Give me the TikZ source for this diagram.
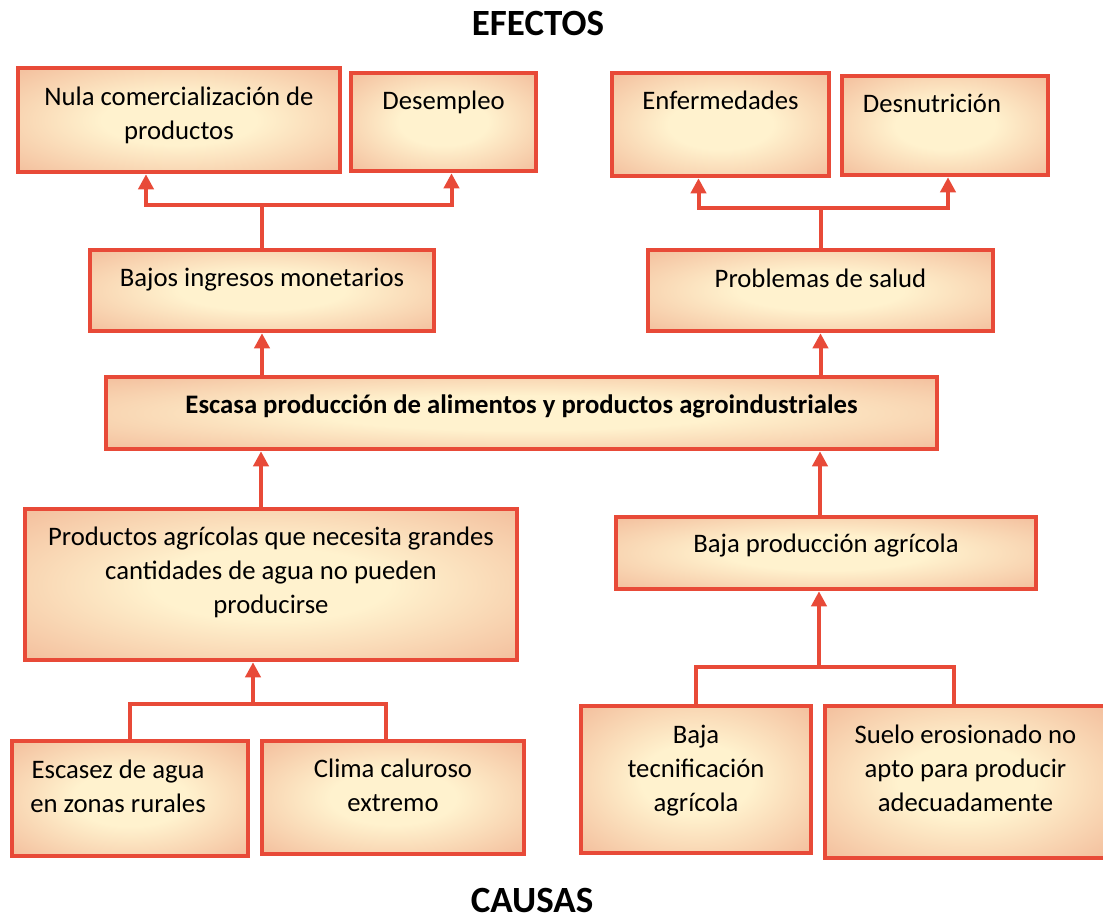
\documentclass[tikz,border=0pt]{standalone}
\usepackage{fontspec}
\setmainfont{Carlito}
\usetikzlibrary{arrows.meta}
\definecolor{edge}{RGB}{232,74,56}
\definecolor{cream}{RGB}{255,242,206}
\definecolor{peach}{RGB}{244,194,160}
\pgfdeclareradialshading[cream,peach]{boxshade}{\pgfpoint{0bp}{0bp}}%
  {color(0bp)=(cream); color(12bp)=(cream); color(34bp)=(peach); color(50bp)=(peach)}
% extra depth under the last line, pushes the text up in its box
\newcommand{\drop}[1]{\rule[-#1pt]{0pt}{#1pt}}

\begin{document}
\begin{tikzpicture}[
  x=1pt, y=-1pt,
  box/.style={draw=edge, line width=4.5pt, shading=boxshade, align=center,
              inner sep=0pt, font=\fontsize{26.7}{34}\selectfont},
  ln/.style={draw=edge, line width=4pt},
  ar/.style={ln, -{Triangle[length=15pt, width=15pt]}},
  title/.style={inner sep=0pt, font=\fontsize{37}{44}\selectfont\bfseries},
]
\useasboundingbox (0,0) rectangle (1103,922);

\node[title] (efectos) at (538,23.5) {EFECTOS};
\node[title] (causas)  at (532,900)  {CAUSAS};

% effects
\node[box, minimum width=322pt, minimum height=104pt] (nula)  at (179,120)   {Nula comercialización de\\productos\drop{14}};
\node[box, minimum width=185pt, minimum height=98pt]  (desem) at (443.5,122) {Desempleo\drop{44}};
\node[box, minimum width=217pt, minimum height=103pt] (enfer) at (720.5,124.5) {Enfermedades\drop{49}};
\node[box, minimum width=206pt, minimum height=99pt]  (desnu) at (945,125.5) {Desnutrición\hspace*{26pt}\drop{45}};

\node[box, minimum width=344pt, minimum height=81pt] (bajos) at (262,290.5)   {Bajos ingresos monetarios\drop{26}};
\node[box, minimum width=345pt, minimum height=81pt] (salud) at (820.5,290.5) {Problemas de salud\drop{25}};

% central problem
\node[box, minimum width=831pt, minimum height=72pt] (escasa) at (521.5,413)
  {\bfseries Escasa producción de alimentos y productos agroindustriales\drop{18}};

% causes
\node[box, minimum width=492pt, minimum height=151pt] (prodag)   at (271,584.5) {Productos agrícolas que necesita grandes\\cantidades de agua no pueden\\producirse\drop{29}};
\node[box, minimum width=420pt, minimum height=72pt]  (bajaprod) at (826,553)   {Baja producción agrícola\drop{20}};

\node[box, minimum width=236pt, minimum height=115pt] (escasez) at (130,798.5) {Escasez de agua\hspace*{24pt}\\en zonas rurales\hspace*{24pt}\drop{24}};
\node[box, minimum width=262pt, minimum height=113pt] (clima)   at (393,797.5) {Clima caluroso\\extremo\drop{24}};
\node[box, minimum width=230pt, minimum height=147pt] (tecnif)  at (696,779.5) {Baja\\tecnificación\\agrícola\drop{23}};
\node[box, minimum width=281pt, minimum height=152pt] (suelo)   at (965.5,782) {Suelo erosionado no\\apto para producir\\adecuadamente\drop{28}};

% connectors
\draw[ln] (bajos.north) -- ++(0,-43) coordinate (bj);
\draw[ar] (bj) -| ([xshift=-33pt]nula.south);
\draw[ar] (bj) -| ([xshift=8pt]desem.south);
\draw[ln] (salud.north) -- ++(0,-40) coordinate (sj);
\draw[ar] (sj) -| ([xshift=-22pt]enfer.south);
\draw[ar] (sj) -| ([xshift=3pt]desnu.south);

\draw[ar] (escasa.north -| bajos.south) -- (bajos.south);
\draw[ar] (escasa.north -| salud.south) -- (salud.south);
\draw[ar] ([xshift=-10pt]prodag.north) -- ([xshift=-10pt]prodag.north |- escasa.south);
\draw[ar] ([xshift=-6pt]bajaprod.north) -- ([xshift=-6pt]bajaprod.north |- escasa.south);

\draw[ln] (escasez.north) -- ++(0,-35) -| ([xshift=-7pt]clima.north);
\draw[ar] ([xshift=-18pt,yshift=35pt]prodag.south |- escasez.north) -- ([xshift=-18pt]prodag.south);
\draw[ln] (tecnif.north) -- ++(0,-37) -| ([xshift=-12pt]suelo.north);
\draw[ar] ([xshift=-7pt,yshift=37pt]bajaprod.south |- tecnif.north) -- ([xshift=-7pt]bajaprod.south);
\end{tikzpicture}
\end{document}
